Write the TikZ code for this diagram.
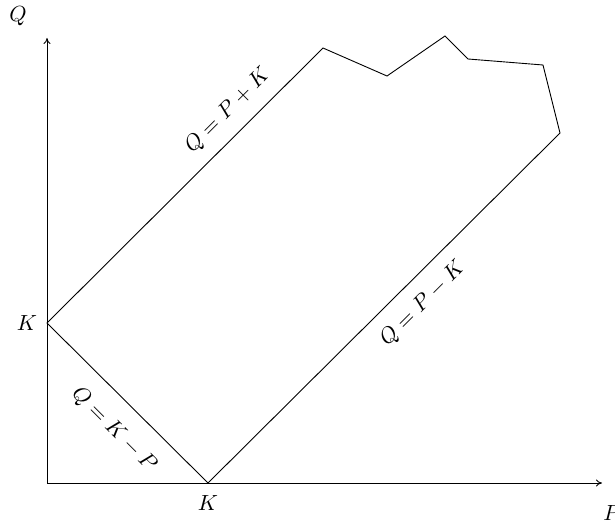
\documentclass[tikz,border=0pt]{standalone}
\usetikzlibrary{arrows.meta}
\begin{document}
\begin{tikzpicture}[x=0.5pt,y=-0.5pt,
  axis/.style={line width=0.45pt,-{To[length=3pt,width=3.5pt]}},
  region/.style={line width=0.45pt,line join=miter},
  lbl/.style={inner sep=0pt,font=\fontsize{10.8}{13}\selectfont}]
\useasboundingbox (0,0) rectangle (615,524);
% axes
\coordinate (O) at (47,483);
\coordinate (Ytip) at (47,38);
\coordinate (Xtip) at (602,483);
\draw[axis] (O) -- (Ytip);
\draw[axis] (O) -- (Xtip);
\node[lbl] (Qax) at (18,16) {$Q$};
\node[lbl] (Pax) at (612,513) {$P$};
% polygon corners
\coordinate (Ky) at (47,323);
\coordinate (Kx) at (208,483);
\coordinate (c1) at (560,133);
\coordinate (c2) at (543,65);
\coordinate (c3) at (468,59);
\coordinate (c4) at (445,36);
\coordinate (c5) at (387,76);
\coordinate (c6) at (323,48);
\draw[region] (Ky) -- (Kx) -- (c1) -- (c2) -- (c3) -- (c4) -- (c5) -- (c6) -- cycle;
% labels
\node[lbl] (Kyl) at (27,323) {$K$};
\node[lbl] (Kxl) at (208,503) {$K$};
\node[lbl,rotate=45] (l1) at (228,111) {$Q=P+K$};
\node[lbl,rotate=45] (l2) at (423,304) {$Q=P-K$};
\node[lbl,rotate=-45] (l3) at (114,430) {$Q=K-P$};
\end{tikzpicture}
\end{document}
